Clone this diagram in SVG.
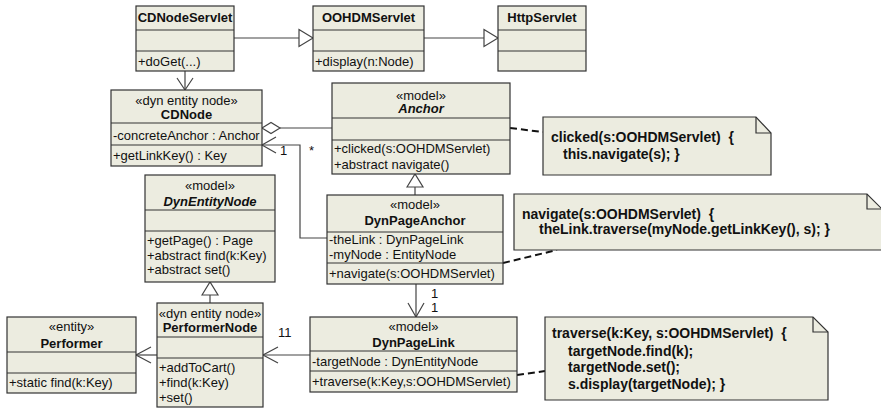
<svg xmlns="http://www.w3.org/2000/svg" width="881" height="408" viewBox="0 0 881 408">
<style>
.box{fill:#ECECE0;stroke:#333;stroke-width:1.2}
.div{stroke:#333;stroke-width:1.2}
.t{font-family:"Liberation Sans",Arial,sans-serif;font-size:13px;fill:#111}
.c{text-anchor:middle}
.b{font-weight:bold}
.i{font-style:italic}
.n{font-family:"Liberation Sans",Arial,sans-serif;font-size:14px;font-weight:bold;fill:#111}
.ln{stroke:#444;stroke-width:1.2;fill:none}
.tri{stroke:#444;stroke-width:1.2;fill:#fff}
.dia{stroke:#444;stroke-width:1.2;fill:#fff}
.dash{stroke:#111;stroke-width:2;stroke-dasharray:7,4;fill:none}
.note{fill:#ECECE0;stroke:#333;stroke-width:1.2}
</style>
<rect width="881" height="408" fill="#fff"/>

<g id="connectors">
  <!-- CDNodeServlet -> OOHDMServlet generalization -->
  <line class="ln" x1="234" y1="38" x2="299" y2="38"/>
  <polygon class="tri" points="299,29.5 313,38 299,46.5"/>
  <!-- OOHDMServlet -> HttpServlet -->
  <line class="ln" x1="424" y1="38" x2="484" y2="38"/>
  <polygon class="tri" points="484,29.5 498,38 484,46.5"/>
  <!-- CDNodeServlet -> CDNode -->
  <line class="ln" x1="185" y1="71" x2="185" y2="90"/>
  <polyline class="ln" points="177,78 185,90 193,78"/>
  <!-- CDNode aggregation Anchor -->
  <polygon class="dia" points="262,128 271,122.5 280,128 271,133.5"/>
  <line class="ln" x1="280" y1="128" x2="332" y2="128"/>
  <!-- DynPageAnchor -> CDNode -->
  <polyline class="ln" points="327,238 300,238 300,145 262,145"/>
  <polyline class="ln" points="276,137 262,145 276,153"/>
  <text class="t" x="280" y="155">1</text>
  <text class="t" x="309" y="155">*</text>
  <!-- DynPageAnchor -> Anchor generalization -->
  <line class="ln" x1="415" y1="195" x2="415" y2="187"/>
  <polygon class="tri" points="407,187 415,174 423,187"/>
  <!-- PerformerNode -> DynEntityNode generalization -->
  <line class="ln" x1="210" y1="303" x2="210" y2="295"/>
  <polygon class="tri" points="202,295 210,282 218,295"/>
  <!-- PerformerNode -> Performer -->
  <line class="ln" x1="157" y1="355" x2="136" y2="355"/>
  <polyline class="ln" points="151,347 136,355 151,363"/>
  <!-- DynPageLink -> PerformerNode -->
  <line class="ln" x1="310" y1="355" x2="263" y2="355"/>
  <polyline class="ln" points="278,347 263,355 278,363"/>
  <text class="t" x="278" y="337">11</text>
  <!-- DynPageAnchor -> DynPageLink -->
  <line class="ln" x1="416" y1="284" x2="416" y2="317"/>
  <polyline class="ln" points="408,303 416,317 424,303"/>
  <text class="t" x="431" y="297.5">1</text>
  <text class="t" x="431" y="312">1</text>
  <!-- note anchors -->
  <line class="dash" x1="510" y1="128" x2="543" y2="132"/>
  <line class="dash" x1="503" y1="263" x2="557" y2="250"/>
  <line class="dash" x1="517" y1="375" x2="545" y2="371"/>
</g>

<g id="CDNodeServlet">
  <rect class="box" x="136" y="6" width="98" height="65"/>
  <line class="div" x1="136" y1="30" x2="234" y2="30"/>
  <line class="div" x1="136" y1="51" x2="234" y2="51"/>
  <text class="t b c" x="185" y="22">CDNodeServlet</text>
  <text class="t" x="138" y="65.5">+doGet(...)</text>
</g>

<g id="OOHDMServlet">
  <rect class="box" x="313" y="6" width="111" height="65"/>
  <line class="div" x1="313" y1="30" x2="424" y2="30"/>
  <line class="div" x1="313" y1="51" x2="424" y2="51"/>
  <text class="t b c" x="368.5" y="22">OOHDMServlet</text>
  <text class="t" x="315" y="65.5">+display(n:Node)</text>
</g>

<g id="HttpServlet">
  <rect class="box" x="498" y="6" width="88" height="65"/>
  <line class="div" x1="498" y1="30" x2="586" y2="30"/>
  <line class="div" x1="498" y1="51" x2="586" y2="51"/>
  <text class="t b c" x="542" y="22">HttpServlet</text>
</g>

<g id="CDNode">
  <rect class="box" x="111" y="90" width="151" height="76"/>
  <line class="div" x1="111" y1="123" x2="262" y2="123"/>
  <line class="div" x1="111" y1="145" x2="262" y2="145"/>
  <text class="t c" x="186.5" y="104.5">«dyn entity node»</text>
  <text class="t b c" x="186.5" y="119">CDNode</text>
  <text class="t" x="113" y="139.5">-concreteAnchor : Anchor</text>
  <text class="t" x="113" y="159.5">+getLinkKey() : Key</text>
</g>

<g id="Anchor">
  <rect class="box" x="332" y="83" width="178" height="91"/>
  <line class="div" x1="332" y1="118" x2="510" y2="118"/>
  <line class="div" x1="332" y1="140" x2="510" y2="140"/>
  <text class="t c" x="421" y="99.5">«model»</text>
  <text class="t b i c" x="421" y="113">Anchor</text>
  <text class="t" x="334" y="153">+clicked(s:OOHDMServlet)</text>
  <text class="t" x="334" y="169">+abstract navigate()</text>
</g>

<g id="note-clicked">
  <path class="note" d="M543,117 H756 L771,133 V175 H543 Z"/>
  <path class="ln" d="M756,117 V133 H771" style="stroke:#333"/>
  <text class="n" x="551" y="142" xml:space="preserve">clicked(s:OOHDMServlet)  {</text>
  <text class="n" x="563" y="159">this.navigate(s); }</text>
</g>

<g id="DynEntityNode">
  <rect class="box" x="145" y="175" width="130" height="107"/>
  <line class="div" x1="145" y1="210" x2="275" y2="210"/>
  <line class="div" x1="145" y1="231" x2="275" y2="231"/>
  <text class="t c" x="210" y="189.5">«model»</text>
  <text class="t b i c" x="210" y="205.5">DynEntityNode</text>
  <text class="t" x="147" y="244.5">+getPage() : Page</text>
  <text class="t" x="147" y="259.5">+abstract find(k:Key)</text>
  <text class="t" x="147" y="274">+abstract set()</text>
</g>

<g id="DynPageAnchor">
  <rect class="box" x="327" y="195" width="176" height="89"/>
  <line class="div" x1="327" y1="232" x2="503" y2="232"/>
  <line class="div" x1="327" y1="263" x2="503" y2="263"/>
  <text class="t c" x="415" y="208.5">«model»</text>
  <text class="t b c" x="415" y="224.5">DynPageAnchor</text>
  <text class="t" x="329" y="243.5">-theLink : DynPageLink</text>
  <text class="t" x="329" y="258.5">-myNode : EntityNode</text>
  <text class="t" x="329" y="278">+navigate(s:OOHDMServlet)</text>
</g>

<g id="note-navigate">
  <path class="note" d="M514,194 H867 L882,209 V250 H514 Z"/>
  <path class="ln" d="M867,194 V209 H882" style="stroke:#333"/>
  <text class="n" x="522" y="219" xml:space="preserve">navigate(s:OOHDMServlet)  {</text>
  <text class="n" x="539" y="233.5">theLink.traverse(myNode.getLinkKey(), s); }</text>
</g>

<g id="Performer">
  <rect class="box" x="7" y="317" width="129" height="76"/>
  <line class="div" x1="7" y1="352" x2="136" y2="352"/>
  <line class="div" x1="7" y1="373" x2="136" y2="373"/>
  <text class="t c" x="71.5" y="330.5">«entity»</text>
  <text class="t b c" x="71.5" y="347.5">Performer</text>
  <text class="t" x="9" y="386.5">+static find(k:Key)</text>
</g>

<g id="PerformerNode">
  <rect class="box" x="157" y="303" width="106" height="104"/>
  <line class="div" x1="157" y1="337" x2="263" y2="337"/>
  <line class="div" x1="157" y1="358" x2="263" y2="358"/>
  <text class="t c" x="210" y="317.5">«dyn entity node»</text>
  <text class="t b c" x="210" y="331.5">PerformerNode</text>
  <text class="t" x="159" y="371.5">+addToCart()</text>
  <text class="t" x="159" y="387">+find(k:Key)</text>
  <text class="t" x="159" y="401.5">+set()</text>
</g>

<g id="DynPageLink">
  <rect class="box" x="310" y="317" width="207" height="75"/>
  <line class="div" x1="310" y1="351" x2="517" y2="351"/>
  <line class="div" x1="310" y1="371" x2="517" y2="371"/>
  <text class="t c" x="413.5" y="330.5">«model»</text>
  <text class="t b c" x="413.5" y="346.5">DynPageLink</text>
  <text class="t" x="312" y="365.5">-targetNode : DynEntityNode</text>
  <text class="t" x="312" y="386">+traverse(k:Key,s:OOHDMServlet)</text>
</g>

<g id="note-traverse">
  <path class="note" d="M545,317 H813 L828,332 V400 H545 Z"/>
  <path class="ln" d="M813,317 V332 H828" style="stroke:#333"/>
  <text class="n" x="552" y="338" xml:space="preserve">traverse(k:Key, s:OOHDMServlet)  {</text>
  <text class="n" x="568" y="355.5">targetNode.find(k);</text>
  <text class="n" x="568" y="372">targetNode.set();</text>
  <text class="n" x="568" y="388.5">s.display(targetNode); }</text>
</g>
</svg>
